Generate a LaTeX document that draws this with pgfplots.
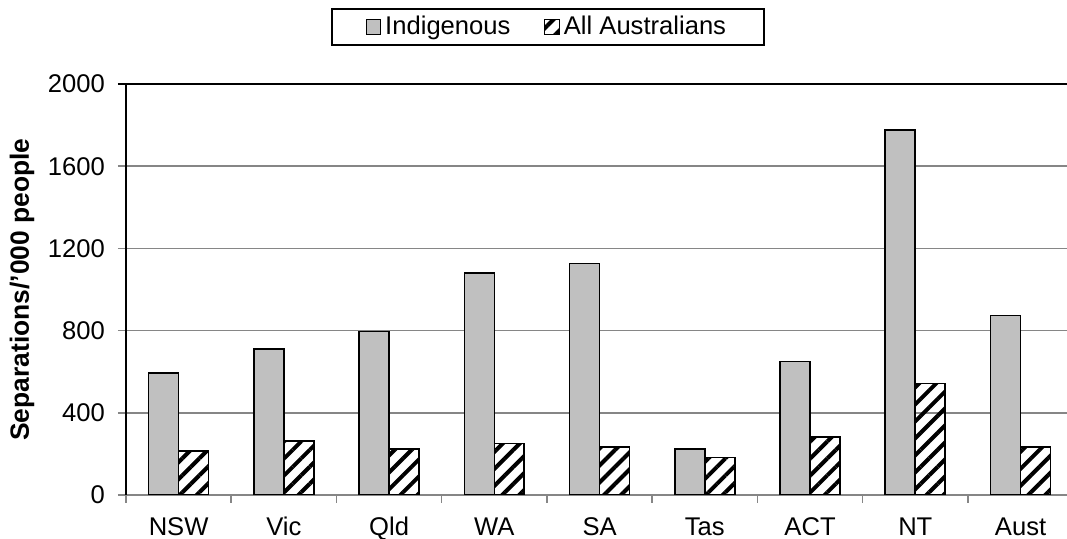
\documentclass[border=0pt]{standalone}
\usepackage{fontspec}
\setmainfont{Liberation Sans}
\usepackage{pgfplots}
\pgfplotsset{compat=1.18}
\usetikzlibrary{patterns.meta}
\definecolor{barg}{HTML}{C0C0C0}
\definecolor{gridg}{HTML}{868686}
\newcommand{\chartfont}{\fontsize{12.8pt}{15pt}\selectfont}
\begin{document}
\begin{tikzpicture}
\useasboundingbox (0pt,0pt) rectangle (533.5pt,269.5pt);
\clip (0pt,0pt) rectangle (533.5pt,269.5pt);
\begin{axis}[
  at={(63pt,22pt)}, anchor=south west,
  width=473.6pt, height=205.5pt, scale only axis,
  xmin=-0.5, xmax=8.5, ymin=0, ymax=2000,
  axis x line*=bottom, axis y line*=left,
  x axis line style={gridg, line width=0.75pt},
  y axis line style={black, line width=0.75pt},
  ytick={0,400,800,1200,1600},
  extra y ticks={2000},
  extra y tick style={grid style={black, line width=1pt}, ytick style={black}},
  ymajorgrids, grid style={gridg, line width=0.75pt},
  ytick style={gridg, line width=0.75pt},
  tick align=outside, major tick length=4pt,
  xtick={-0.5,0.5,...,8.5}, xticklabels={},
  xtick style={gridg, line width=0.75pt},
  extra x ticks={0,1,2,3,4,5,6,7,8},
  extra x tick labels={NSW,Vic,Qld,WA,SA,Tas,ACT,NT,Aust},
  extra x tick style={major tick length=0pt,
    xticklabel style={yshift=-8.5pt, text height=1.6ex, text depth=0.3ex, anchor=north}},
  tick label style={font=\chartfont},
  /pgf/number format/assume math mode=true,
  /pgf/number format/set thousands separator={},
  yticklabel style={xshift=-3pt},
  ylabel={\bfseries Separations/'000 people},
  ylabel style={at={(axis description cs:-0.1098,0.5)}, anchor=center,
    font=\fontsize{13.2pt}{16pt}\selectfont},
  legend columns=2,
  legend style={at={(0.4455,1.1387)}, anchor=center, draw=black, line width=0.75pt,
    font=\chartfont, /tikz/every even column/.append style={column sep=15pt},
    inner xsep=17pt, inner ysep=1.5pt,
    nodes={inner xsep=2pt}},
  legend image code/.code={\draw[#1, line width=0.5pt] (0pt,-3.6pt) rectangle (7.2pt,3.6pt);},
]
\addplot[ybar, bar width=0.285, bar shift=-0.1425, fill=barg, draw=black, line width=0.85pt]
  coordinates {(0,592) (1,709) (2,796) (3,1079) (4,1127) (5,224) (6,650) (7,1776) (8,873)};
\addlegendentry{Indigenous}
\addplot[ybar, bar width=0.285, bar shift=0.1425, draw=black, line width=0.85pt,
  pattern={Lines[angle=45,distance=6pt,line width=2pt]}, pattern color=black]
  coordinates {(0,214) (1,263) (2,224) (3,251) (4,232) (5,183) (6,281) (7,543) (8,232)};
\addlegendentry{All Australians}
\end{axis}
\end{tikzpicture}
\end{document}
